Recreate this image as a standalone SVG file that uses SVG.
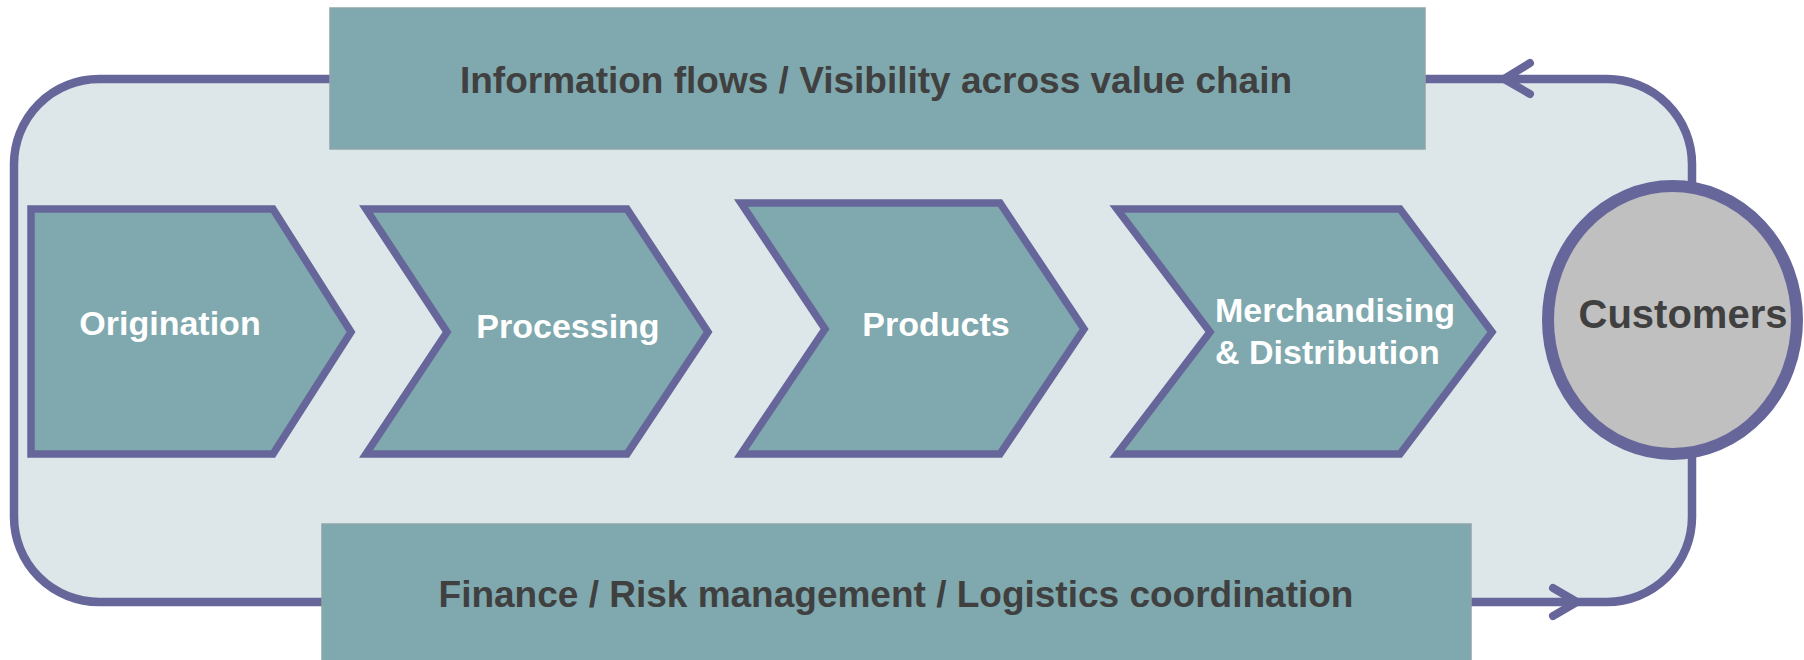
<svg xmlns="http://www.w3.org/2000/svg" width="1804" height="660" viewBox="0 0 1804 660">
<style>
.band{fill:#7FA9AE;stroke:#8FA5A8;stroke-width:1.5}
.chev{fill:#7FA9AE;stroke:#67669A;stroke-width:7.5;stroke-linejoin:miter}
.loop{fill:#DDE7E9;stroke:#67669A;stroke-width:8.5}
.arr{fill:none;stroke:#67669A;stroke-width:8;stroke-linecap:round;stroke-linejoin:round}
.wt{font-family:"Liberation Sans",Arial,sans-serif;font-weight:bold;font-size:34px;fill:#FFFFFF}
.dt{font-family:"Liberation Sans",Arial,sans-serif;font-weight:bold;font-size:37px;fill:#404040;text-anchor:middle}
</style>
<rect width="1804" height="660" fill="#FFFFFF"/>
<g id="connectors">
<rect class="loop" x="14" y="79" width="1678" height="523" rx="85" ry="85"/>
<path class="arr" d="M1530,63 L1504,79 L1530,94"/>
<path class="arr" d="M1553,588 L1577,602 L1553,616"/>
</g>
<g id="info-band">
<rect class="band" x="330" y="8" width="1095" height="141"/>
<text class="dt" x="876" y="93">Information flows / Visibility across value chain</text>
</g>
<g id="finance-band">
<rect class="band" x="322" y="524" width="1149" height="140"/>
<text class="dt" x="896" y="607">Finance / Risk management / Logistics coordination</text>
</g>
<g id="origination">
<polygon class="chev" points="31,209 273,209 351,332 273,454 31,454"/>
<text class="wt" x="170" y="335" text-anchor="middle">Origination</text>
</g>
<g id="processing">
<polygon class="chev" points="366,209 627,209 708,332 627,454 366,454 447,332"/>
<text class="wt" x="568" y="338" text-anchor="middle">Processing</text>
</g>
<g id="products">
<polygon class="chev" points="741,203 1000,203 1084,329 1000,454 741,454 825,329"/>
<text class="wt" x="936" y="336" text-anchor="middle">Products</text>
</g>
<g id="merchandising">
<polygon class="chev" points="1117,209 1400,209 1492,332 1400,454 1117,454 1210,332"/>
<text class="wt" x="1215" y="322">Merchandising</text>
<text class="wt" x="1215" y="364">&amp; Distribution</text>
</g>
<g id="customers">
<ellipse cx="1672.5" cy="320" rx="124.5" ry="134" fill="#C0C0C0" stroke="#67669A" stroke-width="12"/>
<text x="1683" y="328" text-anchor="middle" font-family="Liberation Sans, Arial, sans-serif" font-weight="bold" font-size="40" fill="#404040">Customers</text>
</g>
</svg>
